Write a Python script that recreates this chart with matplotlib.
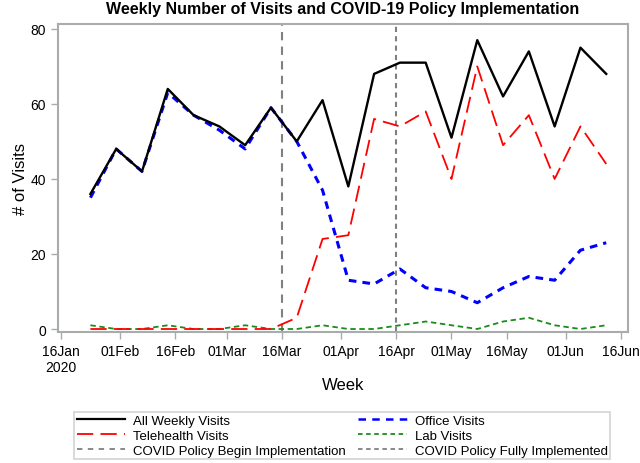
import numpy as np
import pandas as pd
import matplotlib
matplotlib.use("Agg")
import matplotlib.pyplot as plt
from matplotlib.lines import Line2D

plt.rcParams['font.family'] = ['Liberation Sans', 'DejaVu Sans']

# weekly data
weeks = ["2020-01-24", "2020-01-31", "2020-02-07", "2020-02-14", "2020-02-21",
         "2020-02-28", "2020-03-06", "2020-03-13", "2020-03-20", "2020-03-27",
         "2020-04-03", "2020-04-10", "2020-04-17", "2020-04-24", "2020-05-01",
         "2020-05-08", "2020-05-15", "2020-05-22", "2020-05-29", "2020-06-05",
         "2020-06-12"]
all_visits = [36, 48, 42, 64, 57, 54, 49, 59, 50, 61, 38, 68, 71, 71, 51, 77, 62, 74, 54, 75, 68]
office_visits = [35, 48, 42, 63, 57, 53, 48, 59, 50, 37, 13, 12, 16, 11, 10, 7, 11, 14, 13, 21, 23]
tele_visits = [0, 0, 0, 0, 0, 0, 0, 0, 3, 24, 25, 56, 54, 58, 40, 70, 49, 57, 40, 54, 44]
lab_visits = [1, 0, 0, 1, 0, 0, 1, 0, 0, 1, 0, 0, 1, 2, 1, 0, 2, 3, 1, 0, 1]

policy_begin = "2020-03-16"
policy_full = "2020-04-16"

tick_dates = ["2020-01-16", "2020-02-01", "2020-02-16", "2020-03-01", "2020-03-16",
              "2020-04-01", "2020-04-16", "2020-05-01", "2020-05-16", "2020-06-01",
              "2020-06-16"]
tick_labels = ["16Jan\n2020", "01Feb", "16Feb", "01Mar", "16Mar", "01Apr",
               "16Apr", "01May", "16May", "01Jun", "16Jun"]

x = pd.to_datetime(weeks)
spine_col = "#a8acac"

fig = plt.figure(figsize=(6.4, 4.64), dpi=100)
ax = fig.add_axes([0.0906, 0.2823, 0.8906, 0.6638])

ax.axvline(pd.Timestamp(policy_begin), color="#808080", lw=1.5, dashes=(4, 3))
ax.axvline(pd.Timestamp(policy_full), color="#808080", lw=1.5, dashes=(2.5, 2))

ax.plot(x, lab_visits, color="#1a8c1a", lw=1.3, dashes=(3, 2))
ax.plot(x, tele_visits, color="#ff0000", lw=1.3, dashes=(9, 4))
ax.plot(x, office_visits, color="#0000ff", lw=2.2, dashes=(2.5, 2))
ax.plot(x, all_visits, color="black", lw=1.7)

ax.set_xlim(pd.Timestamp("2020-01-16") - pd.Timedelta(days=0.8),
            pd.Timestamp("2020-06-16") + pd.Timedelta(days=1.9))
ax.set_ylim(-0.8, 81.3)
ax.set_yticks([0, 20, 40, 60, 80])
ax.set_xticks(pd.to_datetime(tick_dates))
ax.set_xticklabels(tick_labels)

for s in ax.spines.values():
    s.set_color(spine_col)
    s.set_linewidth(1.5)
ax.tick_params(colors=spine_col, labelcolor="black", labelsize=10, length=5, width=1)

ax.set_title("Weekly Number of Visits and COVID-19 Policy Implementation",
             fontsize=11.5, fontweight="bold", pad=8)
ax.set_xlabel("Week", fontsize=12, labelpad=2)
ax.set_ylabel("# of Visits", fontsize=12, labelpad=2)

handles = [
    Line2D([0], [0], color="black", lw=1.6, label="All Weekly Visits"),
    Line2D([0], [0], color="#ff0000", lw=1.3, dashes=(9, 4), label="Telehealth Visits"),
    Line2D([0], [0], color="#808080", lw=1.3, dashes=(3, 3), label="COVID Policy Begin Implementation"),
    Line2D([0], [0], color="#0000ff", lw=1.8, dashes=(3, 2.5), label="Office Visits"),
    Line2D([0], [0], color="#1a8c1a", lw=1.3, dashes=(2.5, 2), label="Lab Visits"),
    Line2D([0], [0], color="#808080", lw=1.3, dashes=(2.5, 2), label="COVID Policy Fully Implemented"),
]
leg = fig.legend(handles=handles, ncol=2, loc="upper left",
                 bbox_to_anchor=(74 / 640, 1 - 413 / 464),
                 fontsize=9.5, frameon=True, fancybox=False, handlelength=3.7,
                 handletextpad=0.6, labelspacing=0.2, borderpad=0.2, columnspacing=0.9,
                 borderaxespad=0)
leg.get_frame().set_edgecolor("#c8c8c8")
leg.get_frame().set_linewidth(1.2)

fig.savefig("out.png", dpi=100)
